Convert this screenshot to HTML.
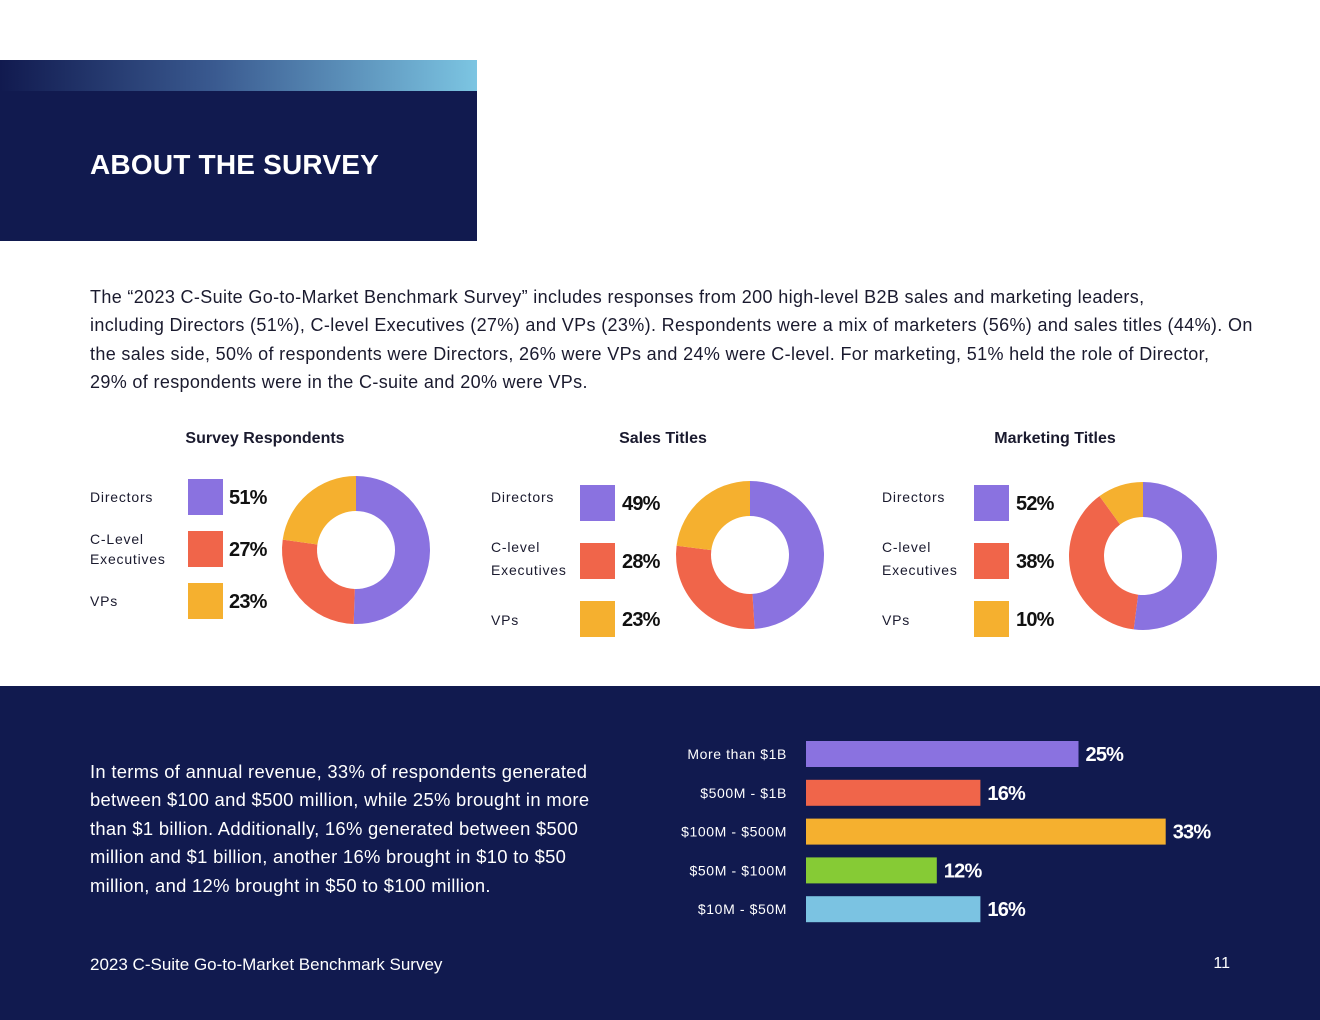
<!DOCTYPE html>
<html><head><meta charset="utf-8"><style>
body{margin:0;width:1320px;height:1020px;position:relative;background:#fff;font-family:"Liberation Sans",sans-serif;overflow:hidden}
.abs{position:absolute}
.p{white-space:nowrap}
</style></head><body>
<div class="abs" style="left:0;top:60px;width:477px;height:31px;background:linear-gradient(90deg,#111a4f 0%,#3a5a90 45%,#7cc5e2 100%)"></div>
<div class="abs" style="left:0;top:91px;width:477px;height:150px;background:#111a4f"></div>
<div class="abs" style="left:90px;top:149px;color:#fff;font-size:28px;font-weight:bold;letter-spacing:0.2px">ABOUT THE SURVEY</div>
<div class="abs p" style="left:90px;top:283px;font-size:18px;letter-spacing:0.35px;line-height:28.4px;color:#1a1a2e">The “2023 C-Suite Go-to-Market Benchmark Survey” includes responses from 200 high-level B2B sales and marketing leaders,<br>including Directors (51%), C-level Executives (27%) and VPs (23%). Respondents were a mix of marketers (56%) and sales titles (44%). On<br>the sales side, 50% of respondents were Directors, 26% were VPs and 24% were C-level. For marketing, 51% held the role of Director,<br>29% of respondents were in the C-suite and 20% were VPs.</div>

<svg id="donuts" class="abs" style="left:0;top:0" width="1320" height="686"></svg>

<div class="abs" style="left:0;top:686px;width:1320px;height:334px;background:#111a4f"></div>
<div class="abs p" style="left:90px;top:758px;font-size:18.4px;letter-spacing:0.3px;line-height:28.4px;color:#fff">In terms of annual revenue, 33% of respondents generated<br>between $100 and $500 million, while 25% brought in more<br>than $1 billion. Additionally, 16% generated between $500<br>million and $1 billion, another 16% brought in $10 to $50<br>million, and 12% brought in $50 to $100 million.</div>
<svg id="bars" class="abs" style="left:0;top:0" width="1320" height="1020"></svg>
<div class="abs" style="left:90px;top:955px;color:#fff;font-size:17px">2023 C-Suite Go-to-Market Benchmark Survey</div>
<div class="abs" style="left:1200px;top:955px;width:30px;text-align:right;color:#fff;font-size:16px">11</div>

<script>
const NS="http://www.w3.org/2000/svg";
const colors=["#8a72e0","#f0654a","#f5b02f","#86cb35","#7bc3e2"];
const donutTitles=["Survey Respondents","Sales Titles","Marketing Titles"];
const donutLabels=[["Directors","C-Level|Executives","VPs"],["Directors","C-level|Executives","VPs"],["Directors","C-level|Executives","VPs"]];
const respondentsValues=[51,27,23];
const salesValues=[49,28,23];
const marketingValues=[52,38,10];
const barCategories=["More than $1B","$500M - $1B","$100M - $500M","$50M - $100M","$10M - $50M"];
const barValues=[25,16,33,12,16];

function mk(tag,attrs,parent){const e=document.createElementNS(NS,tag);for(const k in attrs)e.setAttribute(k,attrs[k]);parent.appendChild(e);return e;}
const dsvg=document.getElementById('donuts');
const layouts=[{tx:265,lx:90,sx:188,vx:229,cx:356,cy:550,ys:[497,549,601],lab:[[502],[544,564],[606]]},{tx:663,lx:491,sx:580,vx:622,cx:750,cy:555,ys:[503,561,619],lab:[[502],[552,575],[625]]},{tx:1055,lx:882,sx:974,vx:1016,cx:1143,cy:556,ys:[503,561,619],lab:[[502],[552,575],[625]]}];
const allVals=[respondentsValues,salesValues,marketingValues];
allVals.forEach((vals,i)=>{
  const L=layouts[i];
  const t=mk('text',{x:L.tx,y:443,'text-anchor':'middle','font-size':16,'font-weight':'bold',fill:'#1a1a2e'},dsvg);t.textContent=donutTitles[i];
  
  
  vals.forEach((v,j)=>{
    const y=L.ys[j];
    const parts=donutLabels[i][j].split('|');
    parts.forEach((p,k)=>{
      const lt=mk('text',{x:L.lx,y:L.lab[j][k],'font-size':14,fill:'#1a1a2e','letter-spacing':'0.8'},dsvg);lt.textContent=p;
      
      
    });
    const r=mk('rect',{x:L.sx,y:y-18,width:35,height:36,fill:colors[j]},dsvg);
    
    
    const vt=mk('text',{x:L.vx,y:y+7,'font-size':20,'font-weight':'bold',fill:'#111','letter-spacing':'-0.8'},dsvg);vt.textContent=v+'%';
    
    
  });
  const total=vals.reduce((a,b)=>a+b,0);let a0=0;const R=74,r0=39;
  vals.forEach((v,j)=>{
    const a1=a0+v/total*2*Math.PI;
    const p=(a,rr)=>[L.cx+rr*Math.sin(a),L.cy-rr*Math.cos(a)];
    const [x1,y1]=p(a0,R),[x2,y2]=p(a1,R),[x3,y3]=p(a1,r0),[x4,y4]=p(a0,r0);
    const lg=(a1-a0)>Math.PI?1:0;
    const path=mk('path',{d:`M${x1},${y1}A${R},${R} 0 ${lg} 1 ${x2},${y2}L${x3},${y3}A${r0},${r0} 0 ${lg} 0 ${x4},${y4}Z`,fill:colors[j]},dsvg);
    
    
    a0=a1;
  });
});

const bsvg=document.getElementById('bars');
const x0=806,pxPer=10.9,y0=741,step=38.8,bh=26;
barCategories.forEach((c,i)=>{
  const y=y0+i*step,w=barValues[i]*pxPer;
  const lt=mk('text',{x:787,y:y+18,'text-anchor':'end','font-size':14,fill:'#fff','letter-spacing':'0.6'},bsvg);lt.textContent=c;
  
  
  const r=mk('rect',{x:x0,y:y,width:w,height:bh,fill:colors[i]},bsvg);
  
  
  const vt=mk('text',{x:x0+w+7,y:y+20,'font-size':20,'font-weight':'bold',fill:'#fff','letter-spacing':'-0.8'},bsvg);vt.textContent=barValues[i]+'%';
  
  
});
</script>
</body></html>
